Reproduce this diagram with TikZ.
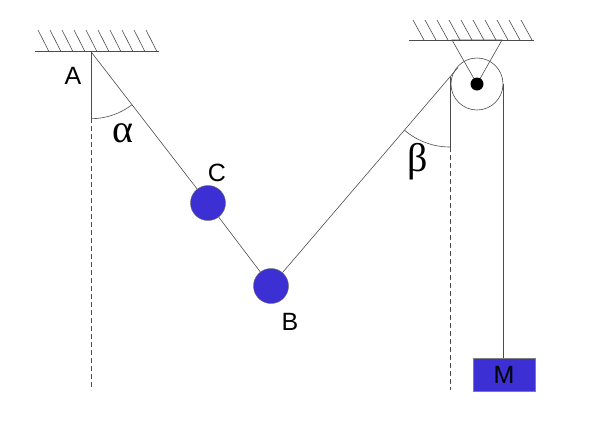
\documentclass[tikz,border=0pt]{standalone}
\usepackage{fontspec}
\setmainfont{Liberation Sans}
\newfontfamily\greekfont{Liberation Serif}
\definecolor{massblue}{RGB}{60,48,212}

\begin{document}
\begin{tikzpicture}[x=1pt, y=-1pt,
      every node/.style = {font=\fontsize{25}{27}\selectfont},
      rope/.style = {draw=black!70, line width=0.6pt},
      plumb/.style = {draw=black!70, line width=0.6pt, dash pattern=on 5pt off 3pt},
      ball/.style = {circle, draw=black!60, fill=massblue, minimum size=35pt, inner sep=0pt},
      pulley/.style = {circle, draw=black!70, line width=0.6pt, minimum size=52pt, inner sep=0pt},
      block/.style = {rectangle, draw=black!50, fill=massblue, minimum width=62pt, minimum height=33pt},
      greek/.style = {font=\greekfont\fontsize{40}{40}\selectfont}]
  \useasboundingbox (0,0) rectangle (611,432);
  \draw[rope] (35,51.7) -- (159,51.7);
  \foreach \x in {38,50,...,146} \draw[rope] (\x,30) -- ++(11,21.7);
  \draw[rope] (409,40) -- (534,40);
  \foreach \x in {413,425,...,521} \draw[rope] (\x,20) -- ++(11,20);
  \coordinate (A) at (91,51.7);
  \node[ball] (C) at (208,203) {};
  \node[ball] (B) at (271,286) {};
  \node[pulley] (P) at (477,84) {};
  \coordinate (T) at (458,67.5);
  \coordinate (Q) at (450,77);
  \node[block] (M) at (504,374.5) {M};
  \draw[rope] (A) -- (C) -- (B) -- (T);
  \draw[rope] (P.east) -- (P.east |- M.north);
  \draw[rope] (452,40) -- (502,40) -- (P.center) -- cycle;
  \fill (P.center) circle[radius=6.5];
  \draw[rope] (A) -- ++(0,66.3) coordinate (A1);
  \draw[plumb] (A1) -- (91,390);
  \draw[rope] (Q) -- (450,147) coordinate (Q1);
  \draw[plumb] (Q1) -- (450,390);
  \draw[rope] (A) ++(0,67) arc[start angle=90, end angle=52.6, radius=67];
  \draw[rope] (Q) ++(0,70) arc[start angle=90, end angle=130.6, radius=70];
  \node (labelA) at (73,76) {A};
  \node (labelC) at (217,173) {C};
  \node (labelB) at (290,322) {B};
  \node[greek] (alpha) at (123,133) {α};
  \node[greek] (beta) at (418,162) {β};
\end{tikzpicture}
\end{document}
